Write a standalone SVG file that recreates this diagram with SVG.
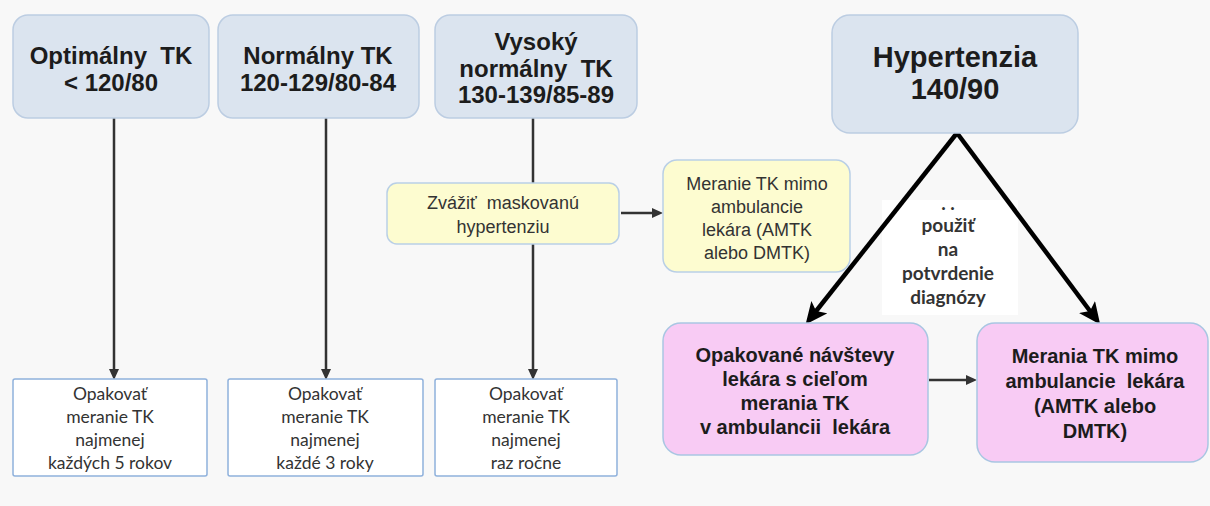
<svg xmlns="http://www.w3.org/2000/svg" width="1210" height="506" viewBox="0 0 1210 506">
<style>
.bg{fill:#f8f8f8}
.blue{fill:#dbe4ef;stroke:#bccde2;stroke-width:1.5}
.yel{fill:#fdfcd0;stroke:#b9cfe6;stroke-width:1.5}
.pink{fill:#f8cbf4;stroke:#a9c6e2;stroke-width:1.5}
.white{fill:#ffffff;stroke:#8fb1dc;stroke-width:1.5}
.t{font-family:"Liberation Sans",Arial,sans-serif;font-weight:bold;fill:#1c1c1c;text-anchor:middle;white-space:pre}
.tb{font-size:24px}
.th{font-size:29px}
.tp{font-size:20px}
.ty{font-family:"Liberation Sans",Arial,sans-serif;font-size:18px;fill:#333;text-anchor:middle;white-space:pre}
.tw{font-family:Lato,"Open Sans",sans-serif;font-size:17.5px;fill:#333;text-anchor:middle}
.tl{font-family:Lato,"Open Sans",sans-serif;font-size:19px;font-weight:bold;fill:#333;text-anchor:middle}
.thin{stroke:#333;stroke-width:2.5;fill:none}
.thick{stroke:#000;stroke-width:4.5;fill:none}
</style>
<defs>
<marker id="ah" markerUnits="userSpaceOnUse" markerWidth="12" markerHeight="12" refX="5" refY="5" orient="auto" viewBox="0 0 12 12">
<path d="M0,0 L11,5 L0,10 z" fill="#333"/>
</marker>
<marker id="ahb" markerUnits="userSpaceOnUse" markerWidth="24" markerHeight="24" refX="10" refY="10" orient="auto" viewBox="0 0 24 24">
<path d="M0,0 L22,10 L0,20 L5,10 z" fill="#000"/>
</marker>
</defs>
<rect class="bg" x="0" y="0" width="1210" height="506"/>
<rect x="882" y="200" width="136" height="115" fill="#ffffff"/>

<g id="connectors">
<line class="thin" x1="114" y1="118" x2="114" y2="374" marker-end="url(#ah)"/>
<line class="thin" x1="326" y1="118" x2="326" y2="374" marker-end="url(#ah)"/>
<line class="thin" x1="533" y1="118" x2="533" y2="183"/>
<line class="thin" x1="533" y1="244" x2="533" y2="374" marker-end="url(#ah)"/>
<line class="thin" x1="621" y1="213" x2="657" y2="213" marker-end="url(#ah)"/>
<line class="thin" x1="929" y1="380" x2="971" y2="380" marker-end="url(#ah)"/>
<line class="thick" x1="957" y1="133" x2="813" y2="315" marker-end="url(#ahb)"/>
<line class="thick" x1="957" y1="133" x2="1093" y2="315" marker-end="url(#ahb)"/>
</g>

<g id="n-optimalny">
<rect class="blue" x="13" y="15" width="196" height="103" rx="15"/>
<text class="t tb" x="111" y="64">Optimálny  TK</text>
<text class="t tb" x="111" y="91">&lt; 120/80</text>
</g>
<g id="n-normalny">
<rect class="blue" x="218" y="15" width="201" height="103" rx="15"/>
<text class="t tb" x="318" y="64">Normálny TK</text>
<text class="t tb" x="318" y="91">120-129/80-84</text>
</g>
<g id="n-vysoky">
<rect class="blue" x="435" y="15" width="202" height="103" rx="15"/>
<text class="t tb" x="536" y="50">Vysoký</text>
<text class="t tb" x="536" y="77">normálny  TK</text>
<text class="t tb" x="536" y="103">130-139/85-89</text>
</g>
<g id="n-hypertenzia">
<rect class="blue" x="832" y="15" width="246" height="118" rx="18"/>
<text class="t th" x="955" y="67">Hypertenzia</text>
<text class="t th" x="955" y="99" font-size="27">140/90</text>
</g>

<g id="n-zvazit">
<rect class="yel" x="387" y="183" width="232" height="61" rx="10"/>
<text class="ty" x="503" y="209">Zvážiť  maskovanú</text>
<text class="ty" x="503" y="233">hypertenziu</text>
</g>
<g id="n-meranie-yel">
<rect class="yel" x="663" y="160" width="187" height="112" rx="14"/>
<text class="ty" x="757" y="190">Meranie TK mimo</text>
<text class="ty" x="757" y="213">ambulancie</text>
<text class="ty" x="757" y="236">lekára (AMTK</text>
<text class="ty" x="757" y="259">alebo DMTK)</text>
</g>

<g id="n-pouzit">
<text class="tl" x="948" y="210" font-size="12" fill="#999">. .</text>
<text class="tl" x="948" y="232">použiť</text>
<text class="tl" x="948" y="256">na</text>
<text class="tl" x="948" y="280">potvrdenie</text>
<text class="tl" x="948" y="304">diagnózy</text>
</g>

<g id="n-opakovane">
<rect class="pink" x="663" y="323" width="265" height="132" rx="18"/>
<text class="t tp" x="795" y="362">Opakované návštevy</text>
<text class="t tp" x="795" y="386">lekára s cieľom</text>
<text class="t tp" x="795" y="410">merania TK</text>
<text class="t tp" x="795" y="434">v ambulancii  lekára</text>
</g>
<g id="n-merania-pink">
<rect class="pink" x="977" y="323" width="231" height="139" rx="18"/>
<text class="t tp" x="1095" y="363">Merania TK mimo</text>
<text class="t tp" x="1095" y="388">ambulancie  lekára</text>
<text class="t tp" x="1095" y="413">(AMTK alebo</text>
<text class="t tp" x="1095" y="438">DMTK)</text>
</g>

<g id="n-opak1">
<rect class="white" x="13" y="379" width="194" height="97" rx="2"/>
<text class="tw" x="110" y="400">Opakovať</text>
<text class="tw" x="110" y="423">meranie TK</text>
<text class="tw" x="110" y="446">najmenej</text>
<text class="tw" x="110" y="469">každých 5 rokov</text>
</g>
<g id="n-opak2">
<rect class="white" x="228" y="379" width="195" height="97" rx="2"/>
<text class="tw" x="325" y="400">Opakovať</text>
<text class="tw" x="325" y="423">meranie TK</text>
<text class="tw" x="325" y="446">najmenej</text>
<text class="tw" x="325" y="469">každé 3 roky</text>
</g>
<g id="n-opak3">
<rect class="white" x="435" y="379" width="182" height="97" rx="2"/>
<text class="tw" x="526" y="400">Opakovať</text>
<text class="tw" x="526" y="423">meranie TK</text>
<text class="tw" x="526" y="446">najmenej</text>
<text class="tw" x="526" y="469">raz ročne</text>
</g>
</svg>
